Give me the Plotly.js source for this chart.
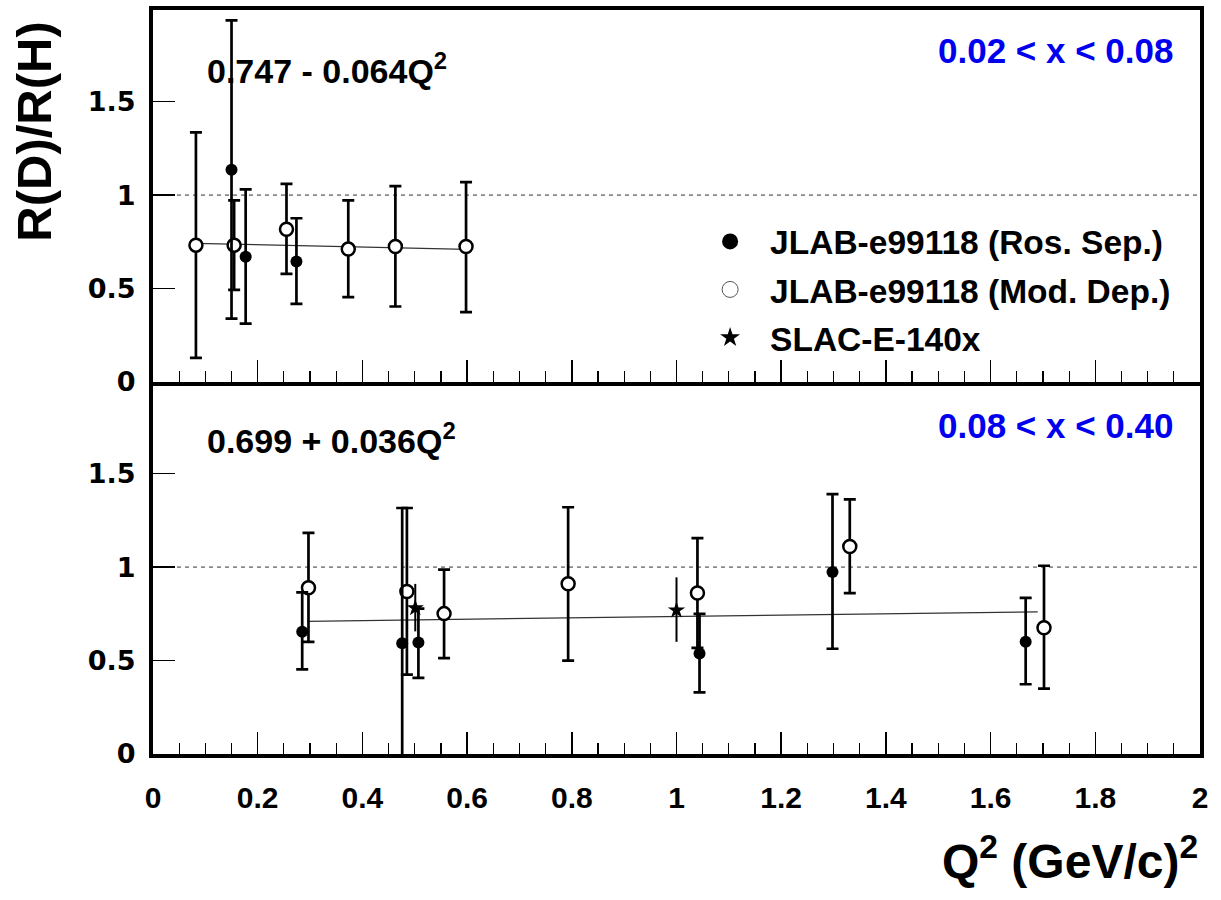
<!DOCTYPE html>
<html>
<head>
<meta charset="utf-8">
<script src="https://cdn.plot.ly/plotly-3.0.1.min.js"></script>
<style>html,body{margin:0;padding:0;background:#fff;}</style>
</head>
<body>
<div id="chart" style="width:1221px;height:900px;"></div>
<script>
// ---------- Panel 1: 0.02 < x < 0.08 ----------
const topRosQ2 = [0.150, 0.177, 0.274];
const topRosR = [1.136, 0.670, 0.644];
const topRosErrUp = [0.798, 0.360, 0.232];
const topRosErrDn = [0.797, 0.358, 0.226];

const topModQ2 = [0.082, 0.155, 0.255, 0.373, 0.463, 0.598];
const topModR = [0.732, 0.732, 0.817, 0.711, 0.725, 0.725];
const topModErrUp = [0.603, 0.240, 0.243, 0.261, 0.323, 0.344];
const topModErrDn = [0.603, 0.239, 0.239, 0.257, 0.321, 0.351];

const topFitQ2 = [0.08, 0.60];
const topFitR = [0.742, 0.709];

// ---------- Panel 2: 0.08 < x < 0.40 ----------
const botRosQ2 = [0.285, 0.476, 0.507, 1.044, 1.298, 1.667];
const botRosR = [0.654, 0.593, 0.596, 0.538, 0.973, 0.600];
const botRosErrUp = [0.211, 0.723, 0.182, 0.212, 0.417, 0.235];
const botRosErrDn = [0.201, 0.900, 0.189, 0.208, 0.410, 0.227];

const botModQ2 = [0.297, 0.485, 0.556, 0.793, 1.040, 1.331, 1.702];
const botModR = [0.889, 0.869, 0.751, 0.911, 0.861, 1.110, 0.675];
const botModErrUp = [0.294, 0.447, 0.235, 0.409, 0.294, 0.252, 0.332];
const botModErrDn = [0.289, 0.444, 0.238, 0.411, 0.293, 0.249, 0.325];

const botSlacQ2 = [0.501, 1.000];
const botSlacR = [0.781, 0.769];
const botSlacErrUp = [0.129, 0.176];
const botSlacErrDn = [0.125, 0.169];

const botFitQ2 = [0.295, 1.69];
const botFitR = [0.710, 0.760];

const refLevel = 1;
const yTicks = [0, 0.5, 1, 1.5];

const legendNames = ['JLAB-e99118 (Ros. Sep.)', 'JLAB-e99118 (Mod. Dep.)', 'SLAC-E-140x'];
const fitLabels = ['0.747 - 0.064Q<sup>2</sup>', '0.699 + 0.036Q<sup>2</sup>'];
const binLabels = ['0.02 &lt; x &lt; 0.08', '0.08 &lt; x &lt; 0.40'];

const HELV = 'Liberation Sans, Arial, Helvetica, sans-serif';
const WIDE = 'DejaVu Sans, Verdana, sans-serif';

function errBar(up, dn, w, th) {
  return {type: 'data', symmetric: false, array: up, arrayminus: dn,
          color: '#000', thickness: th, width: w};
}
const filled = {symbol: 'circle', size: 12, color: '#000'};
const open = {symbol: 'circle', size: 13, color: '#fff', line: {color: '#000', width: 2.5}};

const traces = [
  // fit lines
  {x: topFitQ2, y: topFitR, xaxis: 'x2', yaxis: 'y2', mode: 'lines',
   line: {color: '#333', width: 1.3}, showlegend: false, hoverinfo: 'skip'},
  {x: botFitQ2, y: botFitR, xaxis: 'x', yaxis: 'y', mode: 'lines',
   line: {color: '#333', width: 1.3}, showlegend: false, hoverinfo: 'skip'},
  // top panel
  {x: topModQ2, y: topModR, xaxis: 'x2', yaxis: 'y2', mode: 'markers', marker: open,
   error_y: errBar(topModErrUp, topModErrDn, 6, 2.7), showlegend: false},
  {x: topRosQ2, y: topRosR, xaxis: 'x2', yaxis: 'y2', mode: 'markers', marker: filled,
   error_y: errBar(topRosErrUp, topRosErrDn, 6, 2.7), showlegend: false},
  // bottom panel
  {x: botModQ2, y: botModR, xaxis: 'x', yaxis: 'y', mode: 'markers', marker: open,
   error_y: errBar(botModErrUp, botModErrDn, 6, 2.7), showlegend: false},
  {x: botRosQ2, y: botRosR, xaxis: 'x', yaxis: 'y', mode: 'markers', marker: filled,
   error_y: errBar(botRosErrUp, botRosErrDn, 6, 2.7), showlegend: false},
  {x: botSlacQ2, y: botSlacR, xaxis: 'x', yaxis: 'y', mode: 'markers',
   marker: {symbol: 'star', size: 13, color: '#000'},
   error_y: errBar(botSlacErrUp, botSlacErrDn, 0, 2), showlegend: false},
  // legend entries
  {x: [null], y: [null], xaxis: 'x2', yaxis: 'y2', mode: 'markers', name: legendNames[0],
   legendgroup: 'a', marker: {symbol: 'circle', size: 16, color: '#000'}},
  {x: [null], y: [null], xaxis: 'x2', yaxis: 'y2', mode: 'markers', name: legendNames[1],
   legendgroup: 'b', marker: {symbol: 'circle', size: 16, color: '#fff', line: {color: '#555', width: 1}}},
  {x: [null], y: [null], xaxis: 'x2', yaxis: 'y2', mode: 'markers', name: legendNames[2],
   legendgroup: 'c', marker: {symbol: 'star', size: 15, color: '#000'}}
];

const xCommon = {
  range: [0, 2], dtick: 0.2, tick0: 0, ticks: 'inside', ticklen: 22, tickwidth: 1.5,
  tickcolor: '#000', showgrid: false, zeroline: false, showline: true,
  linecolor: '#000', linewidth: 4,
  minor: {dtick: 0.05, ticks: 'inside', ticklen: 11, tickwidth: 1.2, tickcolor: '#000', showgrid: false}
};
const yCommon = {
  range: [0, 1.99], tickvals: yTicks, ticktext: ['0', '0.5', '1', '1.5'], ticks: 'inside',
  ticklen: 22, tickwidth: 1.5, tickcolor: '#000', showgrid: false, zeroline: false,
  showline: true, mirror: true, linecolor: '#000', linewidth: 4, ticklabelstandoff: 8,
  tickfont: {family: WIDE, size: 27, weight: 'bold', color: '#000'}
};

const layout = {
  width: 1221, height: 900,
  margin: {l: 153, r: 21, t: 10, b: 146},
  paper_bgcolor: '#fff', plot_bgcolor: '#fff',
  showlegend: true,
  legend: {x: 0.513, y: 0.727, xanchor: 'left', yanchor: 'top', itemwidth: 70,
           font: {family: HELV, size: 33.5, weight: 'bold', color: '#000'},
           traceorder: 'grouped', tracegroupgap: 1.5, bgcolor: 'rgba(0,0,0,0)', borderwidth: 0},
  xaxis: Object.assign({}, xCommon, {anchor: 'y', domain: [0, 1], mirror: false,
          tickfont: {family: HELV, size: 30, weight: 'bold', color: '#000'}, ticklabelstandoff: 14}),
  yaxis: Object.assign({}, yCommon, {anchor: 'x', domain: [0, 0.5]}),
  xaxis2: Object.assign({}, xCommon, {anchor: 'y2', domain: [0, 1], mirror: true, showticklabels: false}),
  yaxis2: Object.assign({}, yCommon, {anchor: 'x2', domain: [0.5, 1]}),
  shapes: [
    {type: 'line', xref: 'x2 domain', x0: 0, x1: 1, yref: 'y2', y0: refLevel, y1: refLevel,
     line: {color: '#333', width: 1, dash: '4px,4px'}, layer: 'below'},
    {type: 'line', xref: 'x domain', x0: 0, x1: 1, yref: 'y', y0: refLevel, y1: refLevel,
     line: {color: '#333', width: 1, dash: '4px,4px'}, layer: 'below'}
  ],
  annotations: [
    {text: fitLabels[0], xref: 'paper', yref: 'paper', x: 0.0497, y: 0.922, xanchor: 'left', yanchor: 'middle',
     showarrow: false, font: {family: HELV, size: 34, weight: 'bold', color: '#000'}},
    {text: fitLabels[1], xref: 'paper', yref: 'paper', x: 0.0497, y: 0.4237, xanchor: 'left', yanchor: 'middle',
     showarrow: false, font: {family: HELV, size: 34, weight: 'bold', color: '#000'}},
    {text: binLabels[0], xref: 'paper', yref: 'paper', x: 0.976, y: 0.946, xanchor: 'right', yanchor: 'middle',
     showarrow: false, font: {family: HELV, size: 35, weight: 'bold', color: '#0000ee'}},
    {text: binLabels[1], xref: 'paper', yref: 'paper', x: 0.976, y: 0.442, xanchor: 'right', yanchor: 'middle',
     showarrow: false, font: {family: HELV, size: 35, weight: 'bold', color: '#0000ee'}},
    {text: 'R(D)/R(H)', xref: 'paper', yref: 'paper', x: -0.1140, y: 0.836, xanchor: 'center', yanchor: 'middle',
     textangle: -90, showarrow: false, font: {family: HELV, size: 49, weight: 'bold', color: '#000'}},
    {text: 'Q<sup>2</sup> (GeV/c)<sup>2</sup>', xref: 'paper', yref: 'paper', x: 1.0, y: -0.1398,
     xanchor: 'right', yanchor: 'middle', showarrow: false,
     font: {family: HELV, size: 48, weight: 'bold', color: '#000'}}
  ]
};

Plotly.newPlot('chart', traces, layout, {staticPlot: true, displayModeBar: false});
</script>
</body>
</html>
